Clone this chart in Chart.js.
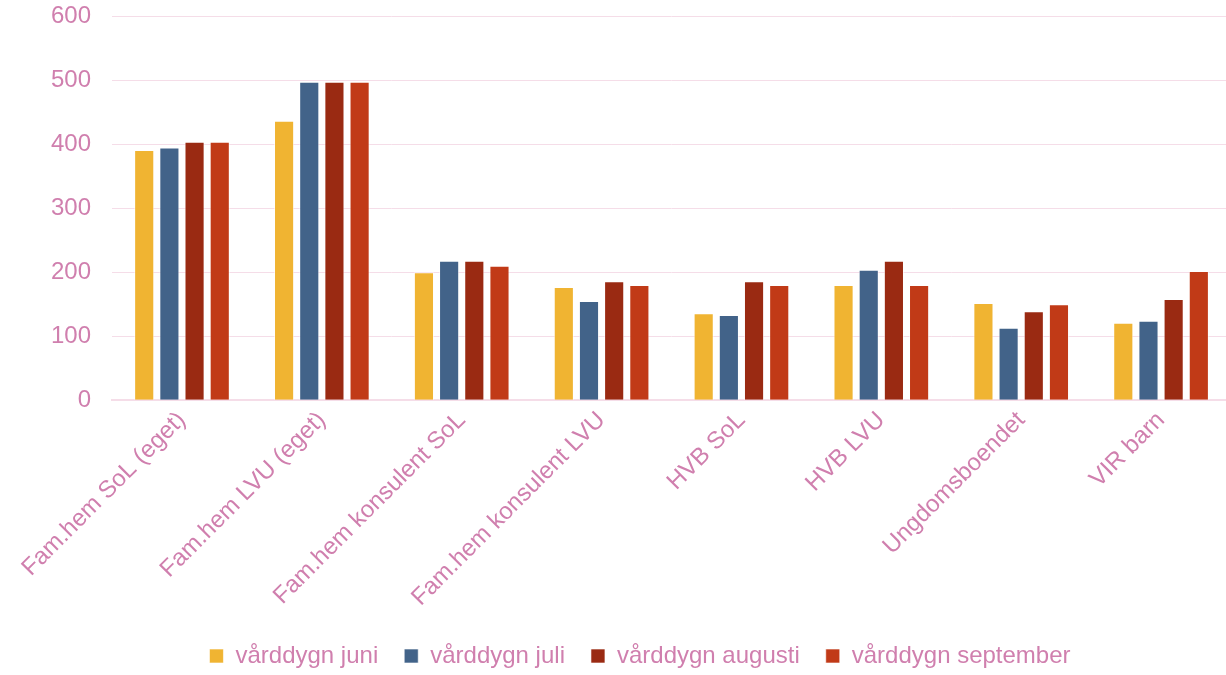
<!DOCTYPE html>
<html>
<head>
<meta charset="utf-8">
<script src="https://cdn.jsdelivr.net/npm/chart.js@4"></script>
<style>
  html, body { margin: 0; padding: 0; background: #fff; overflow: hidden; }
  #wrap { width: 1231px; height: 682px; position: relative; }
</style>
</head>
<body>
<div id="wrap"><canvas id="vardChart"></canvas></div>
<script>
var categories = ['Fam.hem SoL (eget)', 'Fam.hem LVU (eget)', 'Fam.hem konsulent SoL', 'Fam.hem konsulent LVU', 'HVB SoL', 'HVB LVU', 'Ungdomsboendet', 'VIR barn'];
var juni = [391, 437, 200, 177, 136, 180, 152, 121];
var juli = [395, 498, 218, 155, 133, 204, 113, 124];
var augusti = [404, 498, 218, 186, 186, 218, 139, 158];
var september = [404, 498, 210, 180, 180, 180, 150, 202];
var seriesNames = ['vårddygn juni', 'vårddygn juli', 'vårddygn augusti', 'vårddygn september'];

(function () {
  var textColor = '#D07FAE';
  var gridColor = '#F5DDE8';
  var colors = ['#F0B432', '#426389', '#9A2A12', '#C13A17'];
  var values = [juni, juli, augusti, september];

  Chart.defaults.font.family = '"Liberation Sans", Arial, sans-serif';
  Chart.defaults.font.size = 24;
  Chart.defaults.color = textColor;

  var datasets = values.map(function (v, i) {
    return {
      label: seriesNames[i],
      data: v,
      backgroundColor: colors[i],
      borderColor: 'rgba(255,255,255,0.6)',
      borderWidth: 1,
      categoryPercentage: 0.72,
      barPercentage: 0.8
    };
  });

  new Chart(document.getElementById('vardChart').getContext('2d'), {
    type: 'bar',
    data: { labels: categories, datasets: datasets },
    options: {
      responsive: true,
      maintainAspectRatio: false,
      animation: false,
      layout: { padding: { top: 0, right: 0, left: 49, bottom: 4 } },
      plugins: {
        legend: {
          position: 'bottom',
          labels: { boxWidth: 14, boxHeight: 14, padding: 26, color: textColor }
        },
        tooltip: { enabled: false }
      },
      scales: {
        x: {
          grid: { display: false, drawTicks: false },
          border: { color: gridColor, width: 2 },
          ticks: { minRotation: 45, maxRotation: 45, padding: 6, color: textColor }
        },
        y: {
          min: 0,
          max: 600,
          // transparent tick marks keep the gap without padding the top
          grid: { color: gridColor, width: 2, drawTicks: true, tickLength: 19, tickColor: 'rgba(0,0,0,0)' },
          border: { display: false },
          ticks: { stepSize: 100, padding: 2, color: textColor }
        }
      }
    }
  });
})();
</script>
</body>
</html>
